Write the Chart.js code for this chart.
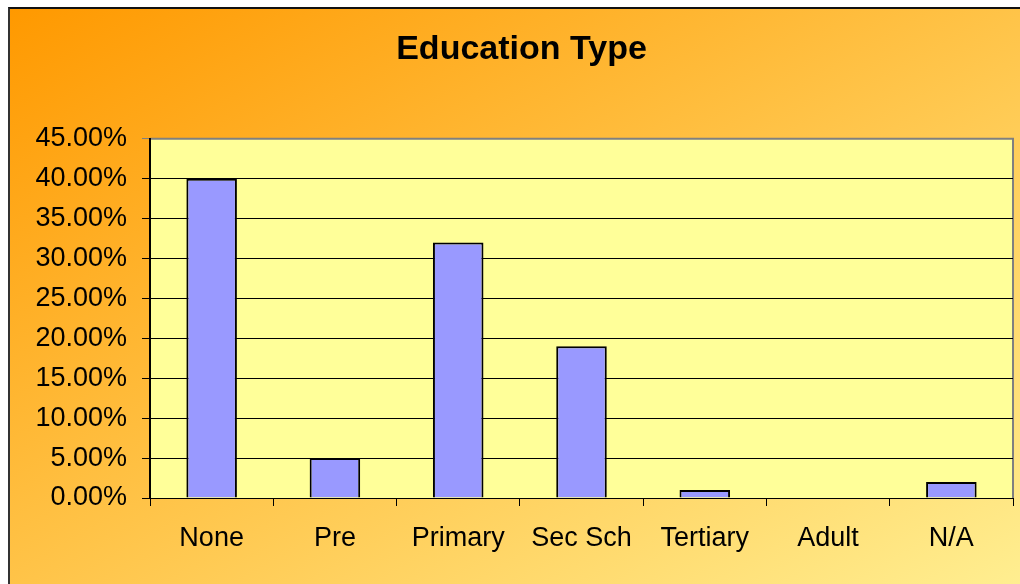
<!DOCTYPE html>
<html>
<head>
<meta charset="utf-8">
<script src="https://cdn.jsdelivr.net/npm/chart.js@4"></script>
<style>
  html, body { margin: 0; padding: 0; background: #fff; width: 1020px; height: 584px; overflow: hidden; }
  #bg {
    position: absolute; left: 8px; top: 7px; width: 1012px; height: 577px;
    border-top: 2px solid #111; border-left: 2px solid #333; box-sizing: border-box;
    background: linear-gradient(to bottom right, #FF9900, #FFEE90);
  }
  #wrap { position: absolute; left: 0; top: 0; width: 1020px; height: 584px; }
</style>
</head>
<body>
<div id="bg"></div>
<div id="wrap"><canvas id="chart" width="1020" height="584"></canvas></div>
<script>
// data (percent)
const categories = ["None", "Pre", "Primary", "Sec Sch", "Tertiary", "Adult", "N/A"];
const shares = [40, 5, 32, 19, 1, 0, 2];
const yTicks = { min: 0, max: 45, step: 5 };

const FONT = "'Liberation Sans', Arial, sans-serif";

// yellow plot area with grey top/right frame
const plotBg = {
  id: "plotBg",
  beforeDraw(chart) {
    const { ctx, chartArea: a } = chart;
    ctx.save();
    ctx.fillStyle = "#FFFF99";
    ctx.fillRect(a.left, a.top, a.right - a.left, a.bottom - a.top);
    ctx.strokeStyle = "#808080";
    ctx.lineWidth = 2;
    ctx.beginPath();
    ctx.moveTo(a.left, a.top);
    ctx.lineTo(a.right, a.top);
    ctx.lineTo(a.right, a.bottom);
    ctx.stroke();
    ctx.restore();
  },
};

new Chart(document.getElementById("chart"), {
  type: "bar",
  data: {
    labels: categories,
    datasets: [{
      data: shares,
      backgroundColor: "#9999FF",
      borderColor: "#000",
      borderWidth: 2,
      categoryPercentage: 1,
      barPercentage: 0.41,
    }],
  },
  options: {
    responsive: false,
    animation: false,
    layout: { padding: { left: 30, right: 7, top: 0, bottom: 0 } },
    plugins: {
      legend: { display: false },
      tooltip: { enabled: false },
      title: {
        display: true,
        text: "Education Type",
        color: "#000",
        font: { family: FONT, size: 34, weight: "bold", lineHeight: 1.2 },
        padding: { top: 29, bottom: 69 },
      },
    },
    scales: {
      x: {
        offset: true,
        afterFit: (s) => { s.height = 86; },
        grid: { offset: true, drawOnChartArea: false, drawTicks: true, tickLength: 8, color: "#000" },
        border: { color: "#000", width: 1 },
        ticks: { color: "#000", font: { family: FONT, size: 27 }, padding: 16, maxRotation: 0 },
      },
      y: {
        min: yTicks.min,
        max: yTicks.max,
        afterFit: (s) => { s.width = 120; },
        grid: {
          color: (c) => (c.tick && c.tick.value === yTicks.max ? "#808080" : "#000"),
          lineWidth: 1,
          tickLength: 8,
        },
        border: { color: "#000", width: 2 },
        ticks: {
          stepSize: yTicks.step,
          color: "#000",
          font: { family: FONT, size: 27 },
          padding: 15,
          callback: (v) => v.toFixed(2) + "%",
        },
      },
    },
  },
  plugins: [plotBg],
});
</script>
</body>
</html>
